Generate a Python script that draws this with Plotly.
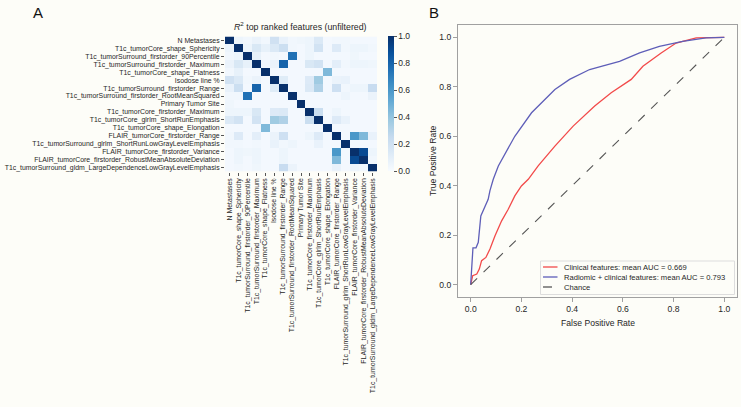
import plotly.graph_objects as go
import plotly.colors as pc

# ---------------- Panel A data ----------------
features = [
    "N Metastases",
    "T1c_tumorCore_shape_Sphericity",
    "T1c_tumorSurround_firstorder_90Percentile",
    "T1c_tumorSurround_firstorder_Maximum",
    "T1c_tumorCore_shape_Flatness",
    "Isodose line %",
    "T1c_tumorSurround_firstorder_Range",
    "T1c_tumorSurround_firstorder_RootMeanSquared",
    "Primary Tumor Site",
    "T1c_tumorCore_firstorder_Maximum",
    "T1c_tumorCore_glrlm_ShortRunEmphasis",
    "T1c_tumorCore_shape_Elongation",
    "FLAIR_tumorCore_firstorder_Range",
    "T1c_tumorSurround_glrlm_ShortRunLowGrayLevelEmphasis",
    "FLAIR_tumorCore_firstorder_Variance",
    "FLAIR_tumorCore_firstorder_RobustMeanAbsoluteDeviation",
    "T1c_tumorSurround_gldm_LargeDependenceLowGrayLevelEmphasis",
]

r2_matrix = [
    [1.00, 0.05, 0.03, 0.06, 0.03, 0.20, 0.07, 0.03, 0.04, 0.05, 0.14, 0.02, 0.03, 0.03, 0.02, 0.02, 0.02],
    [0.05, 1.00, 0.05, 0.15, 0.08, 0.14, 0.22, 0.03, 0.02, 0.05, 0.19, 0.02, 0.13, 0.03, 0.05, 0.05, 0.03],
    [0.03, 0.05, 1.00, 0.08, 0.02, 0.03, 0.02, 0.75, 0.02, 0.05, 0.02, 0.02, 0.02, 0.02, 0.04, 0.02, 0.02],
    [0.06, 0.15, 0.08, 1.00, 0.02, 0.06, 0.80, 0.02, 0.02, 0.15, 0.19, 0.02, 0.10, 0.03, 0.05, 0.05, 0.04],
    [0.03, 0.08, 0.02, 0.02, 1.00, 0.02, 0.02, 0.02, 0.02, 0.02, 0.02, 0.45, 0.02, 0.02, 0.02, 0.02, 0.02],
    [0.20, 0.14, 0.03, 0.06, 0.02, 1.00, 0.12, 0.02, 0.02, 0.13, 0.37, 0.02, 0.06, 0.07, 0.02, 0.02, 0.02],
    [0.07, 0.22, 0.02, 0.80, 0.02, 0.12, 1.00, 0.02, 0.02, 0.14, 0.32, 0.02, 0.21, 0.03, 0.05, 0.05, 0.24],
    [0.03, 0.03, 0.75, 0.02, 0.02, 0.02, 0.02, 1.00, 0.02, 0.02, 0.02, 0.02, 0.02, 0.05, 0.02, 0.02, 0.06],
    [0.04, 0.02, 0.02, 0.02, 0.02, 0.02, 0.02, 0.02, 1.00, 0.02, 0.02, 0.02, 0.02, 0.02, 0.02, 0.02, 0.02],
    [0.05, 0.05, 0.05, 0.15, 0.02, 0.13, 0.14, 0.02, 0.02, 1.00, 0.23, 0.02, 0.05, 0.02, 0.02, 0.02, 0.02],
    [0.14, 0.19, 0.02, 0.19, 0.02, 0.37, 0.32, 0.02, 0.02, 0.23, 1.00, 0.02, 0.13, 0.07, 0.02, 0.02, 0.02],
    [0.02, 0.02, 0.02, 0.02, 0.45, 0.02, 0.02, 0.02, 0.02, 0.02, 0.02, 1.00, 0.02, 0.02, 0.02, 0.02, 0.02],
    [0.03, 0.13, 0.02, 0.10, 0.02, 0.06, 0.21, 0.02, 0.02, 0.05, 0.13, 0.02, 1.00, 0.02, 0.60, 0.45, 0.07],
    [0.03, 0.03, 0.02, 0.03, 0.02, 0.07, 0.03, 0.05, 0.02, 0.02, 0.07, 0.02, 0.02, 1.00, 0.02, 0.02, 0.02],
    [0.02, 0.05, 0.04, 0.05, 0.02, 0.02, 0.05, 0.02, 0.02, 0.02, 0.02, 0.02, 0.60, 0.02, 1.00, 0.90, 0.05],
    [0.02, 0.05, 0.02, 0.05, 0.02, 0.02, 0.05, 0.02, 0.02, 0.02, 0.02, 0.02, 0.45, 0.02, 0.90, 1.00, 0.03],
    [0.02, 0.03, 0.02, 0.04, 0.02, 0.02, 0.24, 0.06, 0.02, 0.02, 0.02, 0.02, 0.07, 0.02, 0.05, 0.03, 1.00],
]

colorbar_ticks = [0.0, 0.2, 0.4, 0.6, 0.8, 1.0]
colorbar_labels = ["0.0", "0.2", "0.4", "0.6", "0.8", "1.0"]

# ---------------- Panel B data ----------------
clinical_fpr = [0.0, 0.008, 0.024, 0.034, 0.043, 0.060, 0.076, 0.096, 0.122, 0.148, 0.174,
                0.200, 0.227, 0.266, 0.332, 0.404, 0.489, 0.554, 0.633, 0.679, 0.751,
                0.810, 0.889, 1.0]
clinical_tpr = [0.0, 0.036, 0.043, 0.063, 0.097, 0.110, 0.144, 0.198, 0.258, 0.305, 0.359,
                0.399, 0.426, 0.480, 0.560, 0.641, 0.722, 0.776, 0.830, 0.883, 0.937,
                0.977, 0.998, 1.0]

radiomic_fpr = [0.0, 0.009, 0.021, 0.030, 0.040, 0.059, 0.069, 0.076, 0.089, 0.109, 0.174,
                0.240, 0.332, 0.390, 0.469, 0.515, 0.587, 0.666, 0.744, 0.836, 0.928, 1.0]
radiomic_tpr = [0.0, 0.149, 0.149, 0.171, 0.278, 0.318, 0.345, 0.380, 0.426, 0.480, 0.600,
                0.695, 0.789, 0.830, 0.870, 0.883, 0.903, 0.937, 0.964, 0.984, 0.998, 1.0]

chance = [0.0, 1.0]
roc_ticks = [0.0, 0.2, 0.4, 0.6, 0.8, 1.0]

legend_names = [
    "Clinical features: mean AUC = 0.669",
    "Radiomic + clinical features: mean AUC = 0.793",
    "Chance",
]
legend_colors = ["#f24a4a", "#5e5eb8", "#555555"]
legend_dashes = ["solid", "solid", "dash"]

BG = "#fdfdf8"
FONT = "Liberation Sans, Arial, Helvetica, sans-serif"
TXT = "#262626"
W, H = 741, 407


def px(x):
    return x / W


def py(y):
    return 1 - y / H


fig = go.Figure()

fig.add_trace(go.Heatmap(
    z=r2_matrix, x=features, y=features,
    colorscale=pc.sequential.Blues, zmin=0, zmax=1,
    xaxis="x", yaxis="y",
    colorbar=dict(
        x=px(388), xanchor="left", xpad=0, ypad=0,
        y=py(171), yanchor="bottom", len=(171 - 36) / H, lenmode="fraction",
        thickness=6, outlinewidth=0, ticks="outside", ticklen=3, tickcolor="#555",
        tickvals=colorbar_ticks, ticktext=colorbar_labels,
        tickfont=dict(size=8.5, color=TXT, family=FONT),
    ),
))

for xs, ys, name, col, dash in [
    (clinical_fpr, clinical_tpr, legend_names[0], legend_colors[0], legend_dashes[0]),
    (radiomic_fpr, radiomic_tpr, legend_names[1], legend_colors[1], legend_dashes[1]),
    (chance, chance, legend_names[2], legend_colors[2], legend_dashes[2]),
]:
    fig.add_trace(go.Scatter(
        x=xs, y=ys, mode="lines", name=name,
        line=dict(color=col, width=1.3 if dash == "solid" else 1.1, dash=dash),
        xaxis="x2", yaxis="y2", showlegend=False,
    ))

shapes = []
annotations = []

# manual legend box (matplotlib-style compact legend)
shapes.append(dict(type="rect", xref="paper", yref="paper",
                   x0=px(540.5), x1=px(734.5), y0=py(294.5), y1=py(261),
                   line=dict(color="#dddddd", width=1), fillcolor=BG, layer="above"))
for i, (name, col, dash) in enumerate(zip(legend_names, legend_colors, legend_dashes)):
    yrow = 267 + 10 * i
    shapes.append(dict(type="line", xref="paper", yref="paper",
                       x0=px(543), x1=px(557.5), y0=py(yrow), y1=py(yrow),
                       line=dict(color=col, width=1.3, dash="dash" if dash == "dash" else "solid"),
                       layer="above"))
    annotations.append(dict(text=name, x=px(562), y=py(yrow), xref="paper", yref="paper",
                            xanchor="left", yanchor="middle", showarrow=False,
                            font=dict(size=7.6, color=TXT)))

annotations += [
    dict(text="A", x=px(31), y=py(2), xref="paper", yref="paper", xanchor="left",
         yanchor="top", showarrow=False, font=dict(size=15, color="#111")),
    dict(text="B", x=px(427), y=py(2), xref="paper", yref="paper", xanchor="left",
         yanchor="top", showarrow=False, font=dict(size=15, color="#111")),
    dict(text="<i>R</i><sup>2</sup> top ranked features (unfiltered)", x=px(300), y=py(34),
         xref="paper", yref="paper", xanchor="center", yanchor="bottom", showarrow=False,
         font=dict(size=8.8, color=TXT)),
    dict(text="True Positive Rate", x=px(433), y=py(161), xref="paper", yref="paper",
         xanchor="center", yanchor="middle", textangle=-90, showarrow=False,
         font=dict(size=8.6, color=TXT)),
    dict(text="False Positive Rate", x=px(598), y=py(323), xref="paper", yref="paper",
         xanchor="center", yanchor="middle", showarrow=False,
         font=dict(size=8.6, color=TXT)),
]

fig.update_layout(
    width=W, height=H,
    margin=dict(l=0, r=0, t=0, b=0),
    paper_bgcolor=BG, plot_bgcolor=BG,
    font=dict(family=FONT, color=TXT, size=8),
    showlegend=False,
    xaxis=dict(
        domain=[px(225), px(377)], anchor="y", tickangle=-90,
        tickmode="array", tickvals=features, ticktext=features,
        tickfont=dict(size=6.9, family=FONT, color=TXT),
        ticks="outside", ticklen=3, tickcolor="#555", showgrid=False, zeroline=False,
        automargin=False,
    ),
    yaxis=dict(
        domain=[py(171.5), py(36.5)], anchor="x", autorange="reversed",
        tickmode="array", tickvals=features, ticktext=features,
        tickfont=dict(size=6.9, family=FONT, color=TXT),
        ticks="outside", ticklen=3, tickcolor="#555", showgrid=False, zeroline=False,
        automargin=False,
    ),
    xaxis2=dict(
        domain=[px(458), px(737)], anchor="y2", range=[-0.05, 1.05],
        tickmode="array", tickvals=roc_ticks, tickformat=".1f",
        showline=True, mirror=True, linecolor="#a0a0a0", linewidth=1,
        ticks="outside", ticklen=4, tickcolor="#a0a0a0",
        showgrid=False, zeroline=False, tickfont=dict(size=8.6, color=TXT),
        automargin=False,
    ),
    yaxis2=dict(
        domain=[py(297), py(25)], anchor="x2", range=[-0.05, 1.05],
        tickmode="array", tickvals=roc_ticks, tickformat=".1f",
        showline=True, mirror=True, linecolor="#a0a0a0", linewidth=1,
        ticks="outside", ticklen=4, tickcolor="#a0a0a0",
        showgrid=False, zeroline=False, tickfont=dict(size=8.6, color=TXT),
        automargin=False,
    ),
    shapes=shapes,
    annotations=annotations,
)

fig.write_html("out.html", config={"displayModeBar": False},
               post_script="document.body.style.margin='0px';")
